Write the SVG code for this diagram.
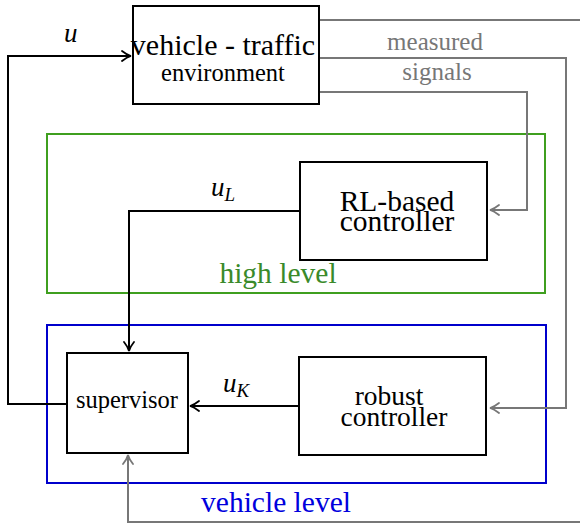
<svg xmlns="http://www.w3.org/2000/svg" width="580" height="526" viewBox="0 0 580 526">
<style>
.box{fill:#fff;stroke:#000;stroke-width:2}
.t{font-family:'Liberation Serif','DejaVu Serif',serif;fill:#000;text-anchor:middle}
.m{font-family:'Liberation Serif','DejaVu Serif',serif;font-style:italic;fill:#000}
.k{fill:none;stroke:#000;stroke-width:2}
.g{fill:none;stroke:#777;stroke-width:2}
</style>
<defs>
<marker id="ab" viewBox="-10 -6 12 12" refX="0" refY="0" markerWidth="12" markerHeight="12" markerUnits="userSpaceOnUse" orient="auto">
<path d="M-9,-5 Q-4,-1 0,0 Q-4,1 -9,5" fill="none" stroke="#000" stroke-width="1.8" stroke-linecap="round"/>
</marker>
<marker id="ag" viewBox="-10 -6 12 12" refX="0" refY="0" markerWidth="12" markerHeight="12" markerUnits="userSpaceOnUse" orient="auto">
<path d="M-9,-5 Q-4,-1 0,0 Q-4,1 -9,5" fill="none" stroke="#777" stroke-width="1.8" stroke-linecap="round"/>
</marker>
</defs>
<g id="high-level">
<rect x="47" y="134" width="498" height="159" fill="none" stroke="#3f9f1f" stroke-width="2"/>
<text x="278" y="283" class="t" font-size="29.5" style="fill:#3a8a2a">high level</text>
</g>
<g id="vehicle-level">
<rect x="47" y="325" width="499" height="158" fill="none" stroke="#0000cc" stroke-width="2"/>
<text x="276" y="512" class="t" font-size="29.5" style="fill:#0000dd">vehicle level</text>
</g>
<g id="connectors">
<path class="k" d="M67,404 H8 V56 H131" marker-end="url(#ab)"/>
<path class="k" d="M300,211 H129 V351" marker-end="url(#ab)"/>
<path class="k" d="M299,406 H190" marker-end="url(#ab)"/>
<path class="g" d="M319,20 H582 V522 H128 V455" marker-end="url(#ag)"/>
<path class="g" d="M319,58 H566 V408 H490" marker-end="url(#ag)"/>
<path class="g" d="M319,92 H527 V210 H490" marker-end="url(#ag)"/>
<text x="64" y="42" class="m" font-size="27">u</text>
<text x="211" y="196" class="m" font-size="27">u<tspan font-size="19" dy="5">L</tspan></text>
<text x="223" y="392" class="m" font-size="27">u<tspan font-size="19" dy="5">K</tspan></text>
<text x="435" y="50" class="t" font-size="25" style="fill:#777">measured</text>
<text x="437" y="80" class="t" font-size="25" style="fill:#777">signals</text>
</g>
<g id="env">
<rect class="box" x="133" y="6" width="186" height="98"/>
<text x="223" y="55" class="t" font-size="30">vehicle - traffic</text>
<text x="223" y="81" class="t" font-size="24.5">environment</text>
</g>
<g id="rl">
<rect class="box" x="300" y="162" width="187" height="98"/>
<text x="397" y="211" class="t" font-size="29.5">RL-based</text>
<text x="397" y="231" class="t" font-size="29.5">controller</text>
</g>
<g id="supervisor">
<rect class="box" x="67" y="353" width="121" height="100"/>
<text x="127" y="408" class="t" font-size="24.5">supervisor</text>
</g>
<g id="robust">
<rect class="box" x="299" y="357" width="187" height="98"/>
<text x="389" y="405" class="t" font-size="27.5">robust</text>
<text x="394" y="426" class="t" font-size="27.5">controller</text>
</g>
</svg>
